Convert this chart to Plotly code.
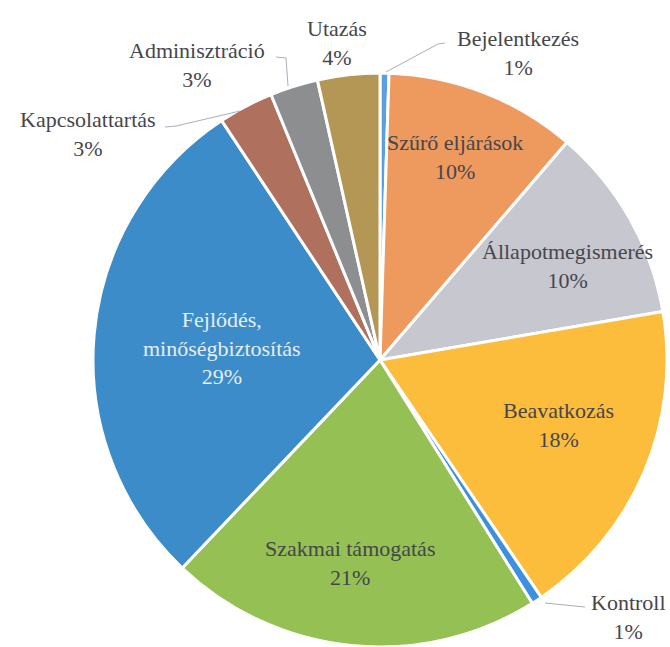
import plotly.graph_objects as go

W, H = 670, 647

categories = ["Bejelentkezés", "Szűrő eljárások", "Állapotmegismerés", "Beavatkozás",
              "Kontroll", "Szakmai támogatás", "Fejlődés,<br>minőségbiztosítás",
              "Kapcsolattartás", "Adminisztráció", "Utazás"]
values = [0.5, 10.8, 11.0, 18.2, 0.6, 21.0, 28.6, 3.1, 2.7, 3.5]
pct_labels = ["1%", "10%", "10%", "18%", "1%", "21%", "29%", "3%", "3%", "4%"]
colors = ["#5A9FE0", "#EE9A5E", "#C6C7CF", "#FDBD3C", "#3D8FE0",
          "#95C054", "#3B8CC9", "#B0705E", "#8C8E90", "#B49755"]

# label anchor positions (pixels) and text colours
label_pos = [(518, 53), (455, 157), (567, 266), (558, 425), (628, 617),
             (350, 563), (222, 348), (88, 134), (197, 65), (337, 43)]
label_col = ["#46464C"] * 10
label_col[6] = "#E6EEF6"

# leader lines (pixels) for outside labels
leaders = [
    [(445, 43), (438, 44), (386, 72)],      # Bejelentkezés
    [(585, 607), (545, 603)],               # Kontroll
    [(165, 127), (176, 126), (240, 111)],   # Kapcsolattartás
    [(276, 57), (286, 58), (288, 86)],      # Adminisztráció
]

cx, cy, r = 380, 360, 287

fig = go.Figure(go.Pie(
    labels=[c.replace("<br>", " ") for c in categories],
    values=values,
    sort=False,
    direction="clockwise",
    rotation=0,
    marker=dict(colors=colors, line=dict(color="white", width=3)),
    textinfo="none",
    hoverinfo="label+percent",
    showlegend=False,
    domain=dict(x=[(cx - r) / W, (cx + r) / W],
                y=[max(0.0, 1 - (cy + r) / H), 1 - (cy - r) / H]),
))

def px(x):
    return x / W

def py(y):
    return 1 - y / H

FONT = "Liberation Serif, Times New Roman, DejaVu Serif, serif"

for cat, pct, (x, y), col in zip(categories, pct_labels, label_pos, label_col):
    fig.add_annotation(
        x=px(x), y=py(y), xref="paper", yref="paper",
        text=f"{cat}<br>{pct}", showarrow=False,
        font=dict(family=FONT, size=22, color=col),
        align="center", xanchor="center", yanchor="middle",
    )

for pts in leaders:
    path = "M " + " L ".join(f"{px(x)},{py(y)}" for x, y in pts)
    fig.add_shape(type="path", path=path, xref="paper", yref="paper",
                  line=dict(color="#A8B0BC", width=1))

fig.update_layout(
    width=W, height=H,
    margin=dict(l=0, r=0, t=0, b=0),
    paper_bgcolor="white", plot_bgcolor="white",
    font=dict(family=FONT),
)

fig.write_html("out.html", config={"displayModeBar": False},
               post_script="document.body.style.margin='0';")
